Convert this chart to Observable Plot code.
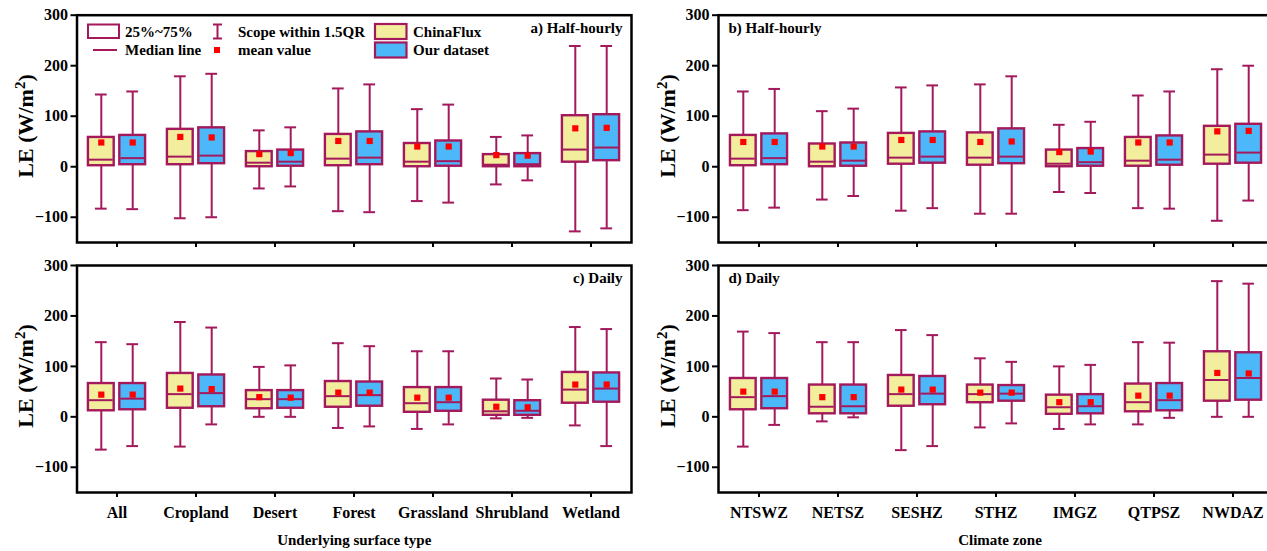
<!DOCTYPE html>
<html><head><meta charset="utf-8">
<script src="https://cdn.jsdelivr.net/npm/d3@7"></script>
<script src="https://cdn.jsdelivr.net/npm/@observablehq/plot@0.6"></script>
<style>
html,body{margin:0;padding:0;background:#fff;}
#wrap{position:relative;width:1267px;height:551px;overflow:hidden;background:#fff;}
.panel{position:absolute;}
#legend{position:absolute;left:0;top:0;}
</style></head><body><div id="wrap"></div>
<script>
const surfaceTypes = ["All","Cropland","Desert","Forest","Grassland","Shrubland","Wetland"];
const climateZones = ["NTSWZ","NETSZ","SESHZ","STHZ","IMGZ","QTPSZ","NWDAZ"];
const seriesNames = ["ChinaFlux","Our dataset"];
const yTicks = [-100, 0, 100, 200, 300];
const legendLabels = ["25%~75%","Scope within 1.5QR","ChinaFlux","Median line","mean value","Our dataset"];
const panelTitles = ["a) Half-hourly","b) Half-hourly","c) Daily","d) Daily"];
const yLabelParts = ["LE (W/m", "2", ")"];
const xLabels = ["Underlying surface type","Climate zone"];

// each entry: [min, q1, median, q3, max, mean]
const aChinaFlux = [[-83,2,14,58,143,48],[-102,4,20,74,179,59],[-43,0,8,30,72,25],[-88,2,16,64,155,51],[-68,0,10,46,114,40],[-35,0,4,24,59,23],[-128,9,34,101,239,76]];
const aOurData   = [[-84,4,17,62,149,48],[-100,6,22,77,184,58],[-39,1,10,33,78,27],[-90,4,18,69,163,51],[-71,1,11,51,123,40],[-27,0,5,26,62,22],[-122,12,38,103,239,77]];
const bChinaFlux = [[-86,2,16,62,149,49],[-65,0,10,45,110,40],[-87,5,18,66,157,53],[-93,3,18,67,163,49],[-50,0,6,33,83,29],[-82,1,12,58,141,48],[-107,5,24,80,193,70]];
const bOurData   = [[-81,4,17,65,154,49],[-58,1,12,47,115,40],[-82,7,20,69,161,53],[-93,6,20,75,179,50],[-52,1,9,36,89,30],[-83,3,14,61,149,48],[-67,7,28,84,200,71]];
const cChinaFlux = [[-65,12,33,66,148,44],[-59,17,45,86,188,56],[0,16,35,52,99,39],[-22,19,41,70,146,48],[-24,9,27,58,130,38],[-3,3,11,33,76,20],[-17,27,54,88,178,64]];
const cOurData   = [[-58,14,36,66,144,44],[-15,20,47,83,177,55],[0,17,35,52,102,38],[-19,21,43,69,140,48],[-15,11,29,58,130,38],[-2,3,12,32,74,19],[-58,29,56,87,174,64]];
const dChinaFlux = [[-59,14,39,76,169,50],[-9,6,20,63,148,39],[-66,21,45,82,172,54],[-21,28,45,63,116,48],[-24,5,19,43,100,29],[-15,10,29,65,148,42],[0,31,73,129,269,87]];
const dOurData   = [[-16,16,41,76,166,50],[-1,6,21,63,148,39],[-58,24,46,80,162,54],[-13,31,46,62,109,48],[-15,6,21,44,103,29],[-2,12,33,66,147,42],[0,33,77,127,264,86]];

const STROKE = "#A3195B";
const FILLS = {"ChinaFlux":"#F3EE9E","Our dataset":"#4DB8F9"};
const FONT = "'Liberation Serif','Times New Roman',serif";

function rowsOf(cats, china, ours) {
  const out = [];
  cats.forEach((c, i) => {
    [[seriesNames[0], china[i]], [seriesNames[1], ours[i]]].forEach(([s, v]) => {
      out.push({cat: c, series: s, min: v[0], q1: v[1], med: v[2], q3: v[3], max: v[4], mean: v[5]});
    });
  });
  return out;
}

function panel({cats, china, ours, left, top, width, height, ml, mr, mt, mb, title, titleRight, showX, xTitle}) {
  const rows = rowsOf(cats, china, ours);
  const bw = (width - ml - mr) / cats.length;
  const boxW = 26, capW = 12, off = 15.7;
  const bi = (bw - boxW) / 2, ci = (bw - capW) / 2;
  const marks = [
    Plot.axisY({ticks: yTicks, tickSize: 6, tickPadding: 3, fontSize: 16, fontWeight: "bold", strokeWidth: 2, label: null}),
    Plot.axisX({tickSize: 5, tickPadding: 9, fontSize: 16, fontWeight: "bold", strokeWidth: 2, label: null, tickFormat: showX ? (d => d) : (() => "")})
  ];
  seriesNames.forEach((s, k) => {
    const sub = rows.filter(r => r.series === s);
    const dx = k === 0 ? -off : off;
    marks.push(
      Plot.ruleX(sub, {x: "cat", y1: "min", y2: "max", stroke: STROKE, strokeWidth: 2, dx}),
      Plot.tickY(sub, {x: "cat", y: "min", stroke: STROKE, strokeWidth: 2, insetLeft: ci, insetRight: ci, dx}),
      Plot.tickY(sub, {x: "cat", y: "max", stroke: STROKE, strokeWidth: 2, insetLeft: ci, insetRight: ci, dx}),
      Plot.barY(sub, {x: "cat", y1: "q1", y2: "q3", fill: FILLS[s], stroke: STROKE, strokeWidth: 2.4, insetLeft: bi, insetRight: bi, dx}),
      Plot.tickY(sub, {x: "cat", y: "med", stroke: STROKE, strokeWidth: 2, insetLeft: bi + 1, insetRight: bi + 1, dx}),
      Plot.dot(sub, {x: "cat", y: "mean", symbol: "square", fill: "#FF0000", r: 3.5, dx})
    );
  });
  marks.push(
    Plot.text([title], {frameAnchor: titleRight ? "top-right" : "top-left", dx: titleRight ? -9 : 10, dy: 13, lineAnchor: "middle", fontSize: 15, fontWeight: "bold", fill: "black"}),
    Plot.frame({stroke: "black", strokeWidth: 2.5})
  );
  if (xTitle) marks.push(Plot.text([xTitle], {frameAnchor: "bottom", dy: 48, dx: xTitle === xLabels[1] ? 4 : 0, lineAnchor: "middle", fontSize: 15, fontWeight: "bold", fill: "black"}));
  const svg = Plot.plot({
    width, height, marginLeft: ml, marginRight: mr, marginTop: mt, marginBottom: mb,
    x: {type: "band", domain: cats, padding: 0, axis: null},
    y: {domain: [-150, 300], axis: null},
    style: {fontFamily: FONT, fontWeight: "bold", background: "white", overflow: "visible", color: "black"},
    marks
  });
  svg.classList.add("panel");
  svg.style.left = left + "px";
  svg.style.top = top + "px";
  return svg;
}

const wrap = document.getElementById("wrap");
wrap.append(
  panel({cats: surfaceTypes, china: aChinaFlux, ours: aOurData, left: 0, top: 0, width: 640, height: 250, ml: 76.5, mr: 9, mt: 14.7, mb: 8, title: panelTitles[0], titleRight: true, showX: false}),
  panel({cats: climateZones, china: bChinaFlux, ours: bOurData, left: 640, top: 0, width: 640, height: 250, ml: 78, mr: 7, mt: 14.7, mb: 8, title: panelTitles[1], titleRight: false, showX: false}),
  panel({cats: surfaceTypes, china: cChinaFlux, ours: cOurData, left: 0, top: 250, width: 640, height: 301, ml: 76.5, mr: 9, mt: 15, mb: 59, title: panelTitles[2], titleRight: true, showX: true, xTitle: xLabels[0]}),
  panel({cats: climateZones, china: dChinaFlux, ours: dOurData, left: 640, top: 250, width: 640, height: 301, ml: 78, mr: 7, mt: 15, mb: 59, title: panelTitles[3], titleRight: false, showX: true, xTitle: xLabels[1]})
);

// overlay: legend (inside panel a) and y-axis titles
const ns = "http://www.w3.org/2000/svg";
const lg = document.createElementNS(ns, "svg");
lg.setAttribute("id", "legend");
lg.setAttribute("width", 1267); lg.setAttribute("height", 551);
lg.style.fontFamily = FONT;
lg.style.pointerEvents = "none";
function el(tag, attrs, parent = lg) { const e = document.createElementNS(ns, tag); for (const k in attrs) e.setAttribute(k, attrs[k]); parent.appendChild(e); return e; }
function txt(x, y, s) { const t = el("text", {x, y, "font-size": 15, "font-weight": "bold", "dominant-baseline": "central", fill: "black"}); t.textContent = s; }
el("rect", {x: 88, y: 24.5, width: 31, height: 13.5, fill: "white", stroke: STROKE, "stroke-width": 2});
txt(125, 31.5, legendLabels[0]);
el("line", {x1: 217.5, x2: 217.5, y1: 24.5, y2: 38.5, stroke: STROKE, "stroke-width": 2});
el("line", {x1: 213, x2: 222, y1: 24.5, y2: 24.5, stroke: STROKE, "stroke-width": 2});
el("line", {x1: 213, x2: 222, y1: 38.5, y2: 38.5, stroke: STROKE, "stroke-width": 2});
txt(238, 31.5, legendLabels[1]);
el("rect", {x: 375, y: 24, width: 31.5, height: 15, fill: FILLS["ChinaFlux"], stroke: STROKE, "stroke-width": 2.2});
txt(413, 31.5, legendLabels[2]);
el("line", {x1: 93, x2: 117, y1: 50, y2: 50, stroke: STROKE, "stroke-width": 2});
txt(125, 50, legendLabels[3]);
el("rect", {x: 214, y: 47, width: 6, height: 6, fill: "#FF0000"});
txt(238, 50, legendLabels[4]);
el("rect", {x: 375, y: 42.5, width: 31.5, height: 15, fill: FILLS["Our dataset"], stroke: STROKE, "stroke-width": 2.2});
txt(413, 50, legendLabels[5]);

[[33, 126], [674.5, 126], [33, 376], [674.5, 376]].forEach(([x, y]) => {
  const t = el("text", {transform: `translate(${x},${y}) rotate(-90)`, "text-anchor": "middle", "font-size": 22, "font-weight": "bold", fill: "black"});
  const a = el("tspan", {}, t); a.textContent = yLabelParts[0];
  const b = el("tspan", {dy: -8, "font-size": 15}, t); b.textContent = yLabelParts[1];
  const c = el("tspan", {dy: 8}, t); c.textContent = yLabelParts[2];
});
wrap.appendChild(lg);
</script></body></html>
